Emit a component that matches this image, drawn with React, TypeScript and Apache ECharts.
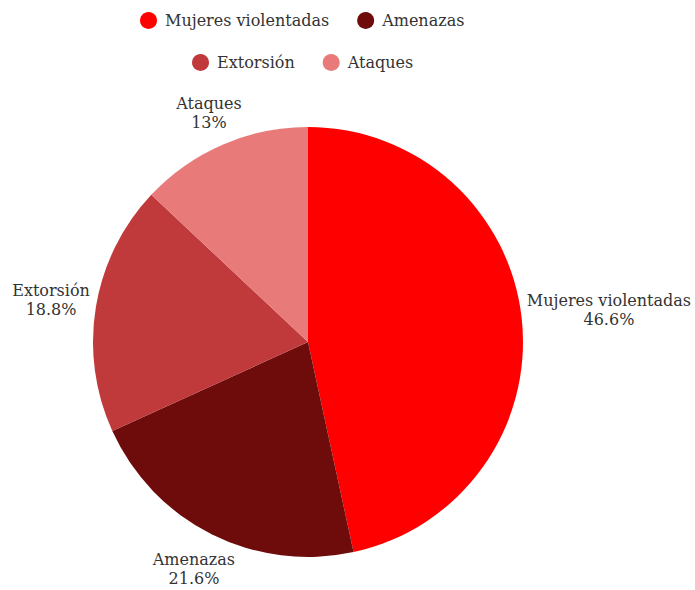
import React, { useEffect, useRef } from "react";
import * as echarts from "echarts";

const categories = ["Mujeres violentadas", "Amenazas", "Extorsión", "Ataques"];
const values = [46.6, 21.6, 18.8, 13];
const colors = ["#ff0000", "#6e0b0b", "#c0393b", "#e87a7a"];

const CX = 308;
const CY = 342;
const R = 215;
const LABEL_GAP = 4;

export default function App() {
  const ref = useRef<HTMLDivElement>(null);
  useEffect(() => {
    const chart = echarts.init(ref.current!, null, { renderer: "svg" });
    const total = values.reduce((a, b) => a + b, 0);
    const midAngles: number[] = [];
    let acc = 0;
    values.forEach((v) => {
      midAngles.push(((acc + v / 2) / total) * Math.PI * 2);
      acc += v;
    });
    const legendBase = {
      itemGap: 28,
      padding: 0,
      icon: "circle",
      itemWidth: 17,
      itemHeight: 17,
      itemStyle: { borderWidth: 0 },
      textStyle: { fontSize: 16, color: "#333", fontFamily: "DejaVu Serif", padding: [0, 0, 0, 3] },
    };
    chart.setOption({
      animation: false,
      textStyle: { fontFamily: "DejaVu Serif" },
      legend: [
        { ...legendBase, top: 12, left: 140, data: categories.slice(0, 2) },
        { ...legendBase, top: 54, left: 192, data: categories.slice(2) },
      ],
      series: [
        {
          type: "pie",
          center: [CX, CY],
          radius: R,
          startAngle: 90,
          clockwise: true,
          data: categories.map((c, i) => ({ name: c, value: values[i], itemStyle: { color: colors[i] } })),
          label: {
            show: true,
            formatter: "{c|{b}}\n{c|{d}%}",
            overflow: "none",
            color: "#333",
            fontFamily: "DejaVu Serif",
            fontSize: 16,
            lineHeight: 19,
            rich: {
              c: { align: "center", fontSize: 16, lineHeight: 19, color: "#333", fontFamily: "DejaVu Serif" },
            },
          },
          labelLine: { show: false, length: 6, length2: 4 },
          labelLayout: (params: any) => {
            const a = midAngles[params.dataIndex];
            const dx = Math.sin(a);
            const dy = -Math.cos(a);
            const w = params.labelRect.width;
            const h = params.labelRect.height;
            const ext = (Math.abs(dx) * w) / 2 + (Math.abs(dy) * h) / 2;
            const d = R + LABEL_GAP + ext;
            return {
              x: CX + dx * d,
              y: CY + dy * d,
              align: "center",
              verticalAlign: "middle",
            };
          },
          emphasis: { disabled: true },
        },
      ],
    });
    return () => chart.dispose();
  }, []);
  return (
    <div
      ref={ref}
      style={{ position: "absolute", left: 0, top: 0, width: 695, height: 590 }}
    />
  );
}
